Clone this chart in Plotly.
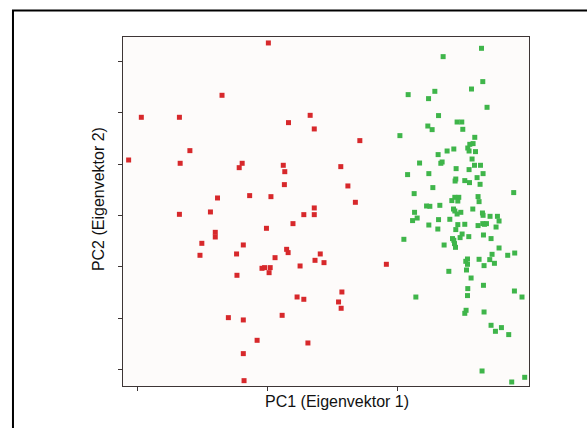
import plotly.graph_objects as go

# PCA scores (arbitrary PC units)
group1_pc1 = [0.03, -1.394, -3.873, -2.703, 1.314, 0.648, 1.440, 2.840, -2.381, -4.263,
              -2.680, -0.775, -0.866, 0.488, 0.534, 2.255, 0.522, 2.473, -1.532, -0.545,
              0.109, 2.703, 1.440, -2.703, -1.750, 1.119, 1.440, 0.786, -1.601, -1.601,
              -0.029, -2.014, -0.740, -2.071, -0.947, 0.591, 0.637, 1.624, 0.235, 1.463,
              1.739, 3.655, -0.166, -0.086, 0.086, 0.052, 1.004, -0.935, 2.289, 0.912,
              1.119, 2.186, 2.266, -1.199, 0.453, -0.740, -0.316, 1.245, -0.740, -0.717]
group1_pc2 = [3.357, 2.339, 1.911, 1.911, 1.949, 1.807, 1.684, 1.457, 1.262, 1.080,
              1.016, 1.016, 0.931, 0.977, 0.853, 0.951, 0.601, 0.575, 0.341, 0.387,
              0.367, 0.257, 0.147, 0.023, 0.069, 0.017, 0.017, -0.158, -0.327, -0.418,
              -0.249, -0.541, -0.573, -0.774, -0.748, -0.658, -0.722, -0.748, -0.820, -0.872,
              -0.917, -0.949, -1.027, -1.014, -1.014, -1.112, -0.982, -1.163, -1.488, -1.585,
              -1.630, -1.682, -1.805, -1.987, -1.942, -2.032, -2.428, -2.480, -2.687, -3.213]

group2_pc1 = [6.577, 5.399, 6.617, 6.270, 4.325, 5.144, 4.951, 6.748, 5.258, 5.828,
              5.972, 4.929, 5.061, 6.003, 4.071, 6.371, 6.319, 6.218, 6.156, 6.393,
              6.196, 5.727, 5.521, 5.245, 4.675, 5.368, 5.328, 6.288, 6.362, 6.546,
              5.798, 6.196, 4.307, 4.960, 6.626, 6.442, 5.788, 5.767, 6.064, 6.209,
              6.534, 5.083, 4.509, 7.567, 6.472, 5.758, 5.880, 5.666, 5.850, 6.503,
              4.890, 4.991, 5.298, 5.718, 5.758, 6.310, 5.828, 5.942, 4.521, 6.607,
              6.626, 6.840, 7.067, 4.460, 4.601, 5.258, 5.604, 7.117, 4.960, 5.850,
              6.064, 6.472, 6.617, 6.669, 6.730, 7.025, 5.236, 5.788, 5.982, 5.920,
              6.187, 6.638, 6.871, 5.687, 5.727, 4.193, 5.429, 5.748, 5.779, 7.117,
              6.902, 7.383, 7.598, 6.147, 6.095, 6.147, 6.503, 6.831, 6.656, 6.975,
              5.574, 6.117, 6.258, 6.638, 6.156, 6.147, 4.561, 7.589, 7.822, 6.104,
              6.064, 6.656, 6.871, 7.006, 7.190, 7.414, 6.595, 7.506, 7.905]
group2_pc2 = [3.253, 3.091, 2.605, 2.461, 2.352, 2.416, 2.274, 2.105, 1.944, 1.819,
              1.819, 1.741, 1.671, 1.677, 1.554, 1.521, 1.399, 1.385, 1.313, 1.243,
              1.255, 1.294, 1.255, 1.185, 1.021, 1.041, 1.016, 1.099, 0.977, 0.977,
              0.912, 0.893, 0.796, 0.815, 0.815, 0.737, 0.710, 0.671, 0.679, 0.640,
              0.607, 0.543, 0.426, 0.446, 0.368, 0.354, 0.354, 0.290, 0.282, 0.270,
              0.185, 0.179, 0.198, 0.126, 0.088, 0.126, 0.029, 0.062, 0.062, 0.049,
              0.004, -0.016, -0.016, -0.099, -0.049, -0.080, -0.074, -0.107, -0.185, -0.177,
              -0.171, -0.196, -0.158, -0.171, -0.158, -0.224, -0.263, -0.274, -0.360, -0.430,
              -0.411, -0.379, -0.449, -0.449, -0.482, -0.463, -0.574, -0.547, -0.619, -0.632,
              -0.755, -0.774, -0.730, -0.846, -0.891, -0.949, -0.852, -0.858, -0.975, -0.930,
              -1.086, -1.060, -1.216, -1.358, -1.422, -1.558, -1.586, -1.469, -1.586, -1.844,
              -1.903, -1.877, -2.136, -2.253, -2.181, -2.317, -3.025, -3.239, -3.148]

x_ticks = [-4, 0, 4]
y_ticks = [-3, -2, -1, 0, 1, 2, 3]
x_title = "PC1 (Eigenvektor 1)"
y_title = "PC2 (Eigenvektor 2)"

fig = go.Figure()
fig.add_trace(go.Scatter(x=group1_pc1, y=group1_pc2, mode="markers",
                         marker=dict(symbol="square", size=5, color="#d7282b"),
                         showlegend=False))
fig.add_trace(go.Scatter(x=group2_pc1, y=group2_pc2, mode="markers",
                         marker=dict(symbol="square", size=5, color="#3fb54a"),
                         showlegend=False))

axis_common = dict(showgrid=False, zeroline=False, showline=True, mirror=True,
                   linecolor="#3d3535", linewidth=1.3, ticks="outside", ticklen=4,
                   tickwidth=1, tickcolor="#3d3535", showticklabels=False)
fig.update_xaxes(range=[-4.436, 8.037], tickvals=x_ticks, **axis_common)
fig.update_yaxes(range=[-3.317, 3.473], tickvals=y_ticks, **axis_common)

fig.update_layout(
    width=587, height=428,
    margin=dict(l=123, r=58, t=37, b=42),
    paper_bgcolor="white", plot_bgcolor="#fdfbfa",
    font=dict(family="Liberation Sans, Arial, sans-serif", color="#111111"),
    annotations=[
        dict(text=x_title, xref="paper", yref="paper", x=0.528, y=-0.044,
             xanchor="center", yanchor="middle", showarrow=False,
             font=dict(size=16)),
        dict(text=y_title, xref="paper", yref="paper", x=-0.062, y=0.535,
             xanchor="center", yanchor="middle", showarrow=False, textangle=-90,
             font=dict(size=16)),
    ],
    shapes=[
        dict(type="rect", xref="paper", yref="paper", x0=-0.271, y0=-0.5,
             x1=1.6, y1=1.076, line=dict(color="black", width=2),
             fillcolor="rgba(0,0,0,0)", layer="below"),
    ],
)

fig.write_html("out.html")
